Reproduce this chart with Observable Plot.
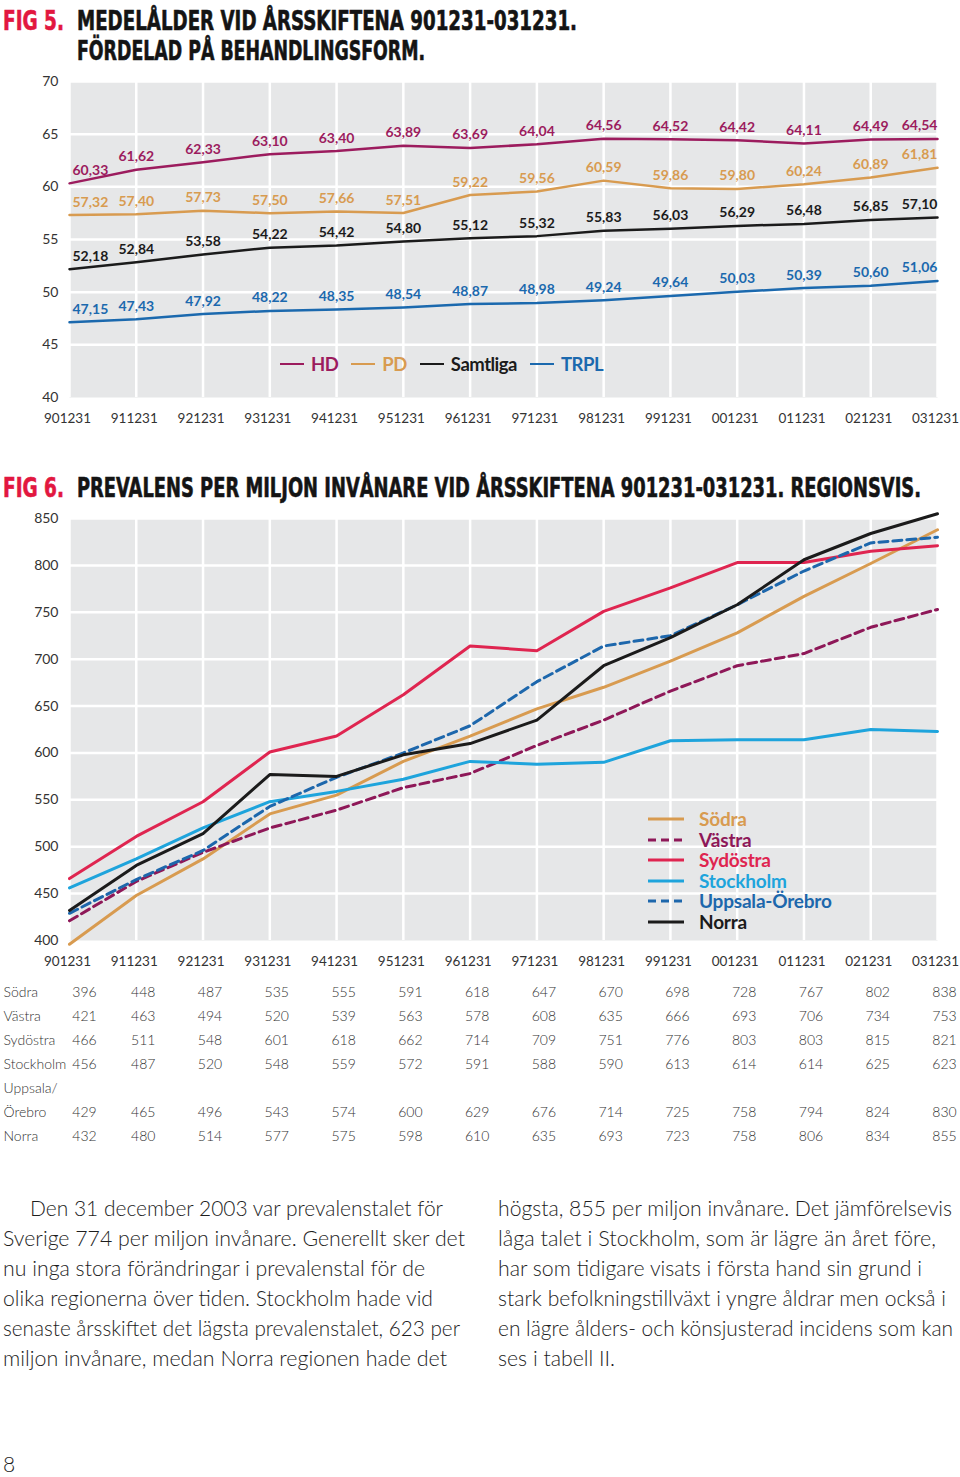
<!DOCTYPE html>
<html><head><meta charset="utf-8">
<script src="https://cdn.jsdelivr.net/npm/d3@7"></script>
<script src="https://cdn.jsdelivr.net/npm/@observablehq/plot@0.6"></script>
<style>
html,body{margin:0;padding:0;background:#fff;}
#page{position:relative;width:960px;height:1477px;overflow:hidden;font-family:Lato,"Open Sans",sans-serif;color:#222;}
.abs{position:absolute;white-space:nowrap;display:inline-block;transform-origin:0 50%;}
.title{font-family:"Liberation Sans Narrow","DejaVu Sans Condensed",sans-serif;font-weight:700;font-size:27px;line-height:27px;color:#141414;-webkit-text-stroke:0.6px #141414;}
.red{color:#e2173f;-webkit-text-stroke:0.6px #e2173f;}
.body{font-family:Lato,sans-serif;font-weight:300;font-size:21px;line-height:30px;color:#1e1e1e;}
.leg{font-family:Lato,sans-serif;font-weight:700;font-size:19px;line-height:20px;}
svg{position:absolute;left:0;}
</style></head><body><div id="page"></div>
<script>
// ---------- data ----------
const years = ["901231","911231","921231","931231","941231","951231","961231","971231","981231","991231","001231","011231","021231","031231"];
// Fig 5: medelålder
const ageSeries = ["HD","PD","Samtliga","TRPL"];
const hdAge       = [60.33,61.62,62.33,63.10,63.40,63.89,63.69,64.04,64.56,64.52,64.42,64.11,64.49,64.54];
const pdAge       = [57.32,57.40,57.73,57.50,57.66,57.51,59.22,59.56,60.59,59.86,59.80,60.24,60.89,61.81];
const samtligaAge = [52.18,52.84,53.58,54.22,54.42,54.80,55.12,55.32,55.83,56.03,56.29,56.48,56.85,57.10];
const trplAge     = [47.15,47.43,47.92,48.22,48.35,48.54,48.87,48.98,49.24,49.64,50.03,50.39,50.60,51.06];
// Fig 6: prevalens per miljon
const regions = ["Södra","Västra","Sydöstra","Stockholm","Uppsala-Örebro","Norra"];
const sodra     = [396,448,487,535,555,591,618,647,670,698,728,767,802,838];
const vastra    = [421,463,494,520,539,563,578,608,635,666,693,706,734,753];
const sydostra  = [466,511,548,601,618,662,714,709,751,776,803,803,815,821];
const stockholm = [456,487,520,548,559,572,591,588,590,613,614,614,625,623];
const uppsala   = [429,465,496,543,574,600,629,676,714,725,758,794,824,830];
const norra     = [432,480,514,577,575,598,610,635,693,723,758,806,834,855];
const tableRows = ["Södra","Västra","Sydöstra","Stockholm","Uppsala/","Örebro","Norra"];
const tableRowOfRegion = ["Södra","Västra","Sydöstra","Stockholm","Örebro","Norra"];

const title5a = "MEDELÅLDER VID ÅRSSKIFTENA 901231-031231.";
const title5b = "FÖRDELAD PÅ BEHANDLINGSFORM.";
const title6 = "PREVALENS PER MILJON INVÅNARE VID ÅRSSKIFTENA 901231-031231. REGIONSVIS.";
const bodyLeft = [
 "Den 31 december 2003 var prevalenstalet för",
 "Sverige 774 per miljon invånare. Generellt sker det",
 "nu inga stora förändringar i prevalenstal för de",
 "olika regionerna över tiden. Stockholm hade vid",
 "senaste årsskiftet det lägsta prevalenstalet, 623 per",
 "miljon invånare, medan Norra regionen hade det"];
const bodyRight = [
 "högsta, 855 per miljon invånare. Det jämförelsevis",
 "låga talet i Stockholm, som är lägre än året före,",
 "har som tidigare visats i första hand sin grund i",
 "stark befolkningstillväxt i yngre åldrar men också i",
 "en lägre ålders- och könsjusterad incidens som kan",
 "ses i tabell II."];

// ---------- layout / styles ----------
const bodyLeftEnds  = [443,465,425,433,460,447];
const bodyRightEnds = [952,936,922,946,953,615];
const ageColors = ["#9c1c5e","#d89b50","#1b1b1b","#1b69ae"];
const regionColors = ["#d89b50","#8e1858","#df2550","#1ea4dc","#1d67ac","#1b1b1b"];
const regionDash = [null,"9,5",null,null,"9,5",null];
const bg = "#e6e7e8";

const page = document.getElementById("page");
function addDiv(cls, text, left, centerY, lh){
  const d = document.createElement("div");
  d.className = "abs " + cls;
  d.textContent = text;
  d.style.left = left + "px";
  d.style.top = (centerY - lh/2) + "px";
  d.style.lineHeight = lh + "px";
  page.appendChild(d);
  return d;
}
function fit(el, target){
  const w = el.getBoundingClientRect().width;
  el.style.transform = `scaleX(${target / w})`;
  return target / w;
}
function addSvg(svg, top){ svg.style.top = top + "px"; page.appendChild(svg); }

// ---------- titles ----------
fit(addDiv("title red","FIG 5.",3,20,27),61);
fit(addDiv("title",title5a,77,20,27),500);
fit(addDiv("title",title5b,77,50,27),348);
fit(addDiv("title red","FIG 6.",3,487,27),61);
fit(addDiv("title",title6,77,487,27),844);

// ---------- Fig 5 ----------
const idx = d3.range(years.length);
const last = years.length - 1;
const fmt = v => d3.format(".2f")(v).replace(".", ",");
const ageValues = [hdAge, pdAge, samtligaAge, trplAge];
const ageData = ageSeries.flatMap((s,k) => ageValues[k].map((v,i) => ({serie:s, i, v})));
const axisStyle = {fontFamily:"Lato, sans-serif", fontSize:"14px", color:"#333", background:"transparent", overflow:"visible"};
const xAxisOpts = {ticks:idx, tickSize:0, tickPadding:16, tickFormat:i=>years[i], label:null, fontSize:13.5, dx:-2};
const labelOpts = {x:"i", y:"v", text:d=>fmt(d.v), fill:"serie", dy:-13, fontWeight:700, fontSize:14};
const chart5 = Plot.plot({
  width:960, height:380, marginTop:21, marginRight:23, marginBottom:43, marginLeft:69,
  style: axisStyle,
  x:{type:"linear", domain:[0,last], label:null},
  y:{domain:[40,70], label:null},
  color:{domain:ageSeries, range:ageColors},
  marks:[
    Plot.frame({fill:bg, stroke:"none"}),
    Plot.gridX({ticks:idx, stroke:"#fff", strokeOpacity:1, strokeWidth:2.5}),
    Plot.gridY({ticks:d3.range(45,71,5), stroke:"#fff", strokeOpacity:1, strokeWidth:2.5}),
    Plot.axisX(xAxisOpts),
    Plot.axisY({ticks:d3.range(40,71,5), tickSize:0, tickPadding:11, label:null}),
    Plot.line(ageData, {x:"i", y:"v", z:"serie", stroke:"serie", strokeWidth:2.5}),
    Plot.text(ageData.filter(d=>d.i===0), {...labelOpts, textAnchor:"start", dx:3}),
    Plot.text(ageData.filter(d=>d.i>0 && d.i<last), {...labelOpts}),
    Plot.text(ageData.filter(d=>d.i===last), {...labelOpts, textAnchor:"end"})
  ]
});
addSvg(chart5, 60);

// Fig 5 legend
const leg5 = document.createElement("div");
leg5.style.cssText = "position:absolute;left:280px;top:354px;height:20px;display:flex;align-items:center;";
ageSeries.forEach((s,k) => {
  const ln = document.createElement("div");
  ln.style.cssText = `width:24px;height:2px;background:${ageColors[k]};margin-right:7px;`;
  const tx = document.createElement("span");
  tx.className = "leg"; tx.textContent = s; tx.style.color = ageColors[k];
  tx.style.fontSize = "18.5px"; tx.style.letterSpacing = "-0.5px";
  tx.style.marginRight = "13px";
  leg5.appendChild(ln); leg5.appendChild(tx);
});
page.appendChild(leg5);

// ---------- Fig 6 ----------
const regionValues = [sodra, vastra, sydostra, stockholm, uppsala, norra];
const regionData = regions.map((r,k) => regionValues[k].map((v,i) => ({region:r, i, v})));
const chart6 = Plot.plot({
  width:960, height:475, marginTop:18, marginRight:23, marginBottom:35, marginLeft:69,
  style: axisStyle,
  x:{type:"linear", domain:[0,last], label:null},
  y:{domain:[400,850], label:null},
  marks:[
    Plot.frame({fill:bg, stroke:"none"}),
    Plot.gridX({ticks:idx, stroke:"#fff", strokeOpacity:1, strokeWidth:2.5}),
    Plot.gridY({ticks:d3.range(450,851,50), stroke:"#fff", strokeOpacity:1, strokeWidth:2.5}),
    Plot.axisX(xAxisOpts),
    Plot.axisY({ticks:d3.range(400,851,50), tickSize:0, tickPadding:11, label:null}),
    ...regionData.map((data,k) => Plot.line(data, {x:"i", y:"v", stroke:regionColors[k], strokeWidth:3, strokeDasharray:regionDash[k] ?? undefined}))
  ]
});
addSvg(chart6, 500);

// Fig 6 legend
regions.forEach((r,k) => {
  const cy = 819 + k*20.6;
  const sw = document.createElementNS("http://www.w3.org/2000/svg","svg");
  sw.setAttribute("width",36); sw.setAttribute("height",6);
  sw.style.cssText = `position:absolute;left:648px;top:${cy-3}px;`;
  const l = document.createElementNS("http://www.w3.org/2000/svg","line");
  l.setAttribute("x1",0); l.setAttribute("x2",36); l.setAttribute("y1",3); l.setAttribute("y2",3);
  l.setAttribute("stroke",regionColors[k]); l.setAttribute("stroke-width",3);
  if (regionDash[k]) l.setAttribute("stroke-dasharray","8,5");
  sw.appendChild(l); page.appendChild(sw);
  const t = addDiv("leg", r, 699, cy, 20);
  t.style.color = regionColors[k];
  t.style.letterSpacing = "-0.2px";
});

// ---------- table ----------
const tableData = regions.flatMap((r,k) => regionValues[k].map((v,i) => ({row:tableRowOfRegion[k], i, v})));
const numOpts = {x:"i", y:"row", text:d=>String(d.v), fill:"#333", fontSize:14};
const table = Plot.plot({
  width:960, height:170, marginTop:12, marginRight:23, marginBottom:14, marginLeft:69,
  style:{...axisStyle, fontWeight:300},
  x:{type:"linear", domain:[0,last], axis:null},
  y:{type:"point", domain:tableRows, padding:0, axis:null},
  marks:[
    Plot.text(tableRows, {y:d=>d, text:d=>d, frameAnchor:"left", textAnchor:"start", dx:-66, fill:"#333", fontSize:14}),
    Plot.text(tableData.filter(d=>d.i===0), {...numOpts, dx:15}),
    Plot.text(tableData.filter(d=>d.i>0), {...numOpts, dx:7})
  ]
});
addSvg(table, 980);

// ---------- body text ----------
bodyLeft.forEach((t,i) => {
  const x0 = i===0 ? 30 : 3;
  fit(addDiv("body", t, x0, 1208 + 30*i, 30), bodyLeftEnds[i] - x0);
});
bodyRight.forEach((t,i) => {
  fit(addDiv("body", t, 498, 1208 + 30*i, 30), bodyRightEnds[i] - 498);
});
addDiv("body", "8", 3, 1464, 22);
</script>
</body></html>
